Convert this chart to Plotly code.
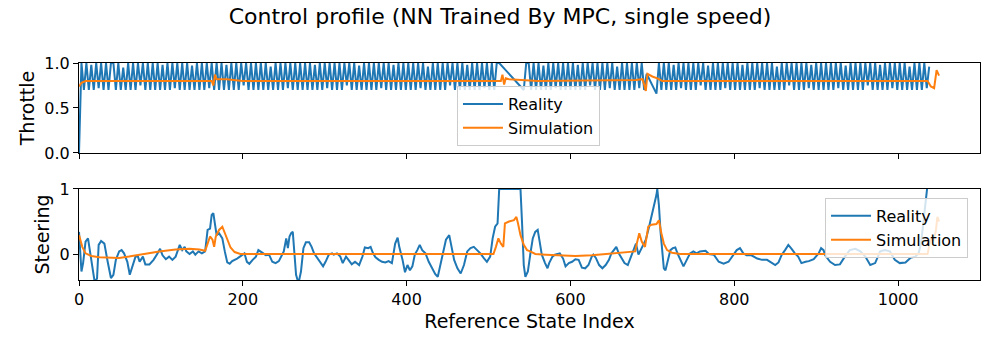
import numpy as np
import plotly.graph_objects as go
from plotly.subplots import make_subplots

# throttle of the real car, one sample every THROTTLE_STEP indices (None = missing samples)
THROTTLE_STEP = 3
throttle_real = [
    0.0,
    1.0, 0.7, 1.0, 0.7, 0.98, 0.7, 1.0, 0.72, 1.0, 0.7,
    1.0, 0.7, 1.0, 1.0, 0.7, 1.0, 0.7, 0.95, 0.7, 1.0,
    0.7, 1.0, 0.7, 1.0, 0.75, 1.0, 0.7, 1.0, 0.7, 1.0,
    0.7, 1.0, 0.7, 0.98, 0.7, 1.0, 0.7, 1.0, 0.72, 1.0,
    0.7, 1.0, 0.7, 1.0, 0.7, 0.97, 0.7, 1.0, 0.7, 1.0,
    0.7, 1.0, 0.72, 1.0, 0.7, 1.0, 0.7, 1.0, 0.7, 0.98,
    0.7, 1.0, 0.7, 1.0, 0.7, 1.0, 0.75, 1.0, 0.7, 1.0,
    0.7, 1.0, 0.7, 1.0, 0.7, 1.0, 0.7, 0.96, 0.7, 1.0,
    0.7, 1.0, 0.7, 1.0, 0.72, 1.0, 0.7, 1.0, 0.7, 1.0,
    0.7, 1.0, 0.7, 1.0, 0.7, 0.98, 0.7, 1.0, 0.7, 1.0,
    0.72, 1.0, 0.7, 1.0, 0.7, 1.0, 0.7, 1.0, 0.75, 1.0,
    0.7, 1.0, 0.7, 0.97, 0.7, 1.0, 0.7, 1.0, 0.7, 1.0,
    0.7, 1.0, 0.72, 1.0, 0.7, 1.0, 0.7, 0.98, 0.7, 1.0,
    0.7, 1.0, 0.7, 1.0, 0.7, 1.0, 0.7, 1.0, 0.72, 1.0,
    0.7, 0.96, 0.7, 1.0, 0.7, 1.0, 0.7, 1.0, 0.7, 1.0,
    0.75, 1.0, 0.7, 1.0, 0.7, 1.0, 0.7, 0.98, 0.7, 1.0,
    0.7, 1.0, 0.7, 1.0, 0.72, 1.0, 0.7, 1.0, 0.7, 1.0,
    1.0,
    None, None, None, None, None, None, None, None, None,
    0.7,
    1.0, 1.0, 0.7, 1.0, 0.7, 1.0, 0.7, 0.97, 0.7,
    1.0, 0.7, 1.0, 0.72, 1.0, 0.7, 1.0, 0.7, 1.0, 0.7,
    1.0, 0.7, 0.98, 0.7, 1.0, 0.7, 1.0, 0.75, 1.0, 0.7,
    1.0, 0.7, 1.0, 0.7, 1.0, 0.72, 1.0, 0.7, 0.96, 0.7,
    1.0, 0.7, 1.0, 0.7, 1.0, 0.7, 1.0, 0.72, 1.0, 0.7,
    0.88,
    None, None, None,
    0.66,
    1.0, 0.7, 1.0, 0.7, 1.0, 0.7, 0.98, 0.7, 1.0, 0.72,
    1.0, 0.7, 1.0, 0.7, 1.0, 0.7, 1.0, 0.75, 1.0, 0.7,
    0.97, 0.7, 1.0, 0.7, 1.0, 0.7, 1.0, 0.72, 1.0, 0.7,
    1.0, 0.7, 1.0, 0.7, 0.98, 0.7, 1.0, 0.7, 1.0, 0.7,
    1.0, 0.72, 1.0, 0.7, 1.0, 0.7, 1.0, 0.7, 0.96, 0.7,
    1.0, 0.7, 1.0, 0.75, 1.0, 0.7, 1.0, 0.7, 1.0, 0.7,
    1.0, 0.72, 0.98, 0.7, 1.0, 0.7, 1.0, 0.7, 1.0, 0.7,
    1.0, 0.7, 1.0, 0.72, 1.0, 0.7, 0.97, 0.7, 1.0, 0.7,
    1.0, 0.7, 1.0, 0.7, 1.0, 0.75, 1.0, 0.7, 1.0, 0.7,
    0.98, 0.7, 1.0, 0.7, 1.0, 0.72, 1.0, 0.7, 1.0, 0.7,
    1.0, 0.7, 0.96, 0.7, 1.0, 0.7, 1.0, 0.7, 1.0, 0.72,
    0.96,
]

throttle_sim_idx = [0, 3, 8, 162, 164, 166, 168, 180, 200, 515, 517, 519, 521,
                    525, 540, 560, 680, 688, 690, 692, 694, 700, 706, 712, 1036,
                    1040, 1044, 1047, 1050]
throttle_sim = [0.74, 0.78, 0.8, 0.8, 0.75, 0.87, 0.82, 0.82, 0.8, 0.8, 0.87,
                0.76, 0.83, 0.82, 0.81, 0.8, 0.81, 0.82, 0.76, 0.69, 0.88, 0.85,
                0.83, 0.8, 0.8, 0.74, 0.72, 0.92, 0.86]

steer_real_idx = [
    0, 3, 5, 8, 11, 15, 19, 22, 24, 27, 31, 35, 39, 42, 45, 49, 52, 55, 59, 62,
    65, 69, 72, 74, 78, 81, 86, 91, 96, 99, 102, 106, 110, 114, 118, 120, 123,
    126, 129, 131, 135, 139, 142, 146, 150, 154, 157, 160, 162, 164, 166, 168,
    171, 175, 178, 181, 184, 187, 193, 197, 202, 205, 208, 212, 216, 219, 222,
    225, 228, 232, 236, 240, 244, 248, 250, 253, 255, 257, 259, 261, 263, 265,
    268, 271, 274, 277, 281, 284, 287, 291, 295, 298, 301, 305, 309, 311, 315,
    319, 322, 326, 329, 333, 337, 342, 346, 349, 353, 356, 359, 362, 366, 370,
    374, 378, 382, 386, 389, 391, 395, 398, 401, 404, 407, 410, 413, 416, 419,
    423, 427, 431, 435, 438, 441, 446, 448, 452, 455, 458, 462, 466, 470, 474,
    478, 482, 486, 490, 494, 498, 502, 505, 508, 511, 513, 539, 541, 543, 545,
    548, 551, 554, 557, 560, 562, 565, 569, 572, 574, 578, 581, 584, 587, 591,
    594, 598, 602, 606, 610, 614, 618, 622, 626, 628, 631, 635, 639, 643, 647,
    650, 653, 656, 659, 663, 666, 670, 674, 678, 680, 683, 687, 689, 692, 696,
    699, 702, 705, 706, 708, 710, 712, 714, 716, 719, 722, 725, 728, 731, 734,
    738, 742, 746, 750, 754, 758, 765, 769, 775, 781, 787, 793, 799, 803, 807,
    811, 815, 821, 828, 834, 840, 846, 850, 854, 858, 862, 866, 870, 874, 878,
    882, 887, 891, 897, 903, 906, 909, 911, 917, 923, 929, 935, 941, 948, 954,
    960, 966, 972, 978, 984, 990, 996, 1002, 1009, 1015, 1021, 1025, 1028, 1031,
    1033, 1035, 1038,
]
steer_real = [
    0.34, -0.27, -0.14, 0.19, 0.24, -0.07, -0.42, -0.38, 0.14, 0.2, 0.16, -0.12,
    -0.37, -0.32, -0.09, 0.04, 0.06, 0.01, -0.12, -0.32, -0.19, -0.04, -0.04,
    -0.12, -0.04, -0.16, -0.16, -0.09, 0.01, 0.08, -0.02, -0.08, -0.04, -0.09,
    -0.04, 0.04, 0.14, 0.06, 0.11, 0.04, 0.0, 0.04, -0.01, 0.04, 0.01, 0.04,
    0.37, 0.39, 0.6, 0.63, 0.45, 0.29, 0.32, 0.24, 0.04, -0.13, -0.15, -0.11,
    -0.07, -0.04, 0.01, -0.12, -0.15, -0.09, -0.04, 0.06, 0.04, 0.01, -0.02,
    -0.01, -0.12, -0.14, -0.11, -0.01, 0.04, 0.24, 0.09, 0.27, 0.32, 0.34, -0.07,
    -0.32, -0.45, -0.27, 0.09, 0.18, 0.18, 0.11, 0.01, -0.07, -0.14, -0.19,
    -0.12, -0.01, 0.01, -0.01, 0.01, -0.04, -0.14, -0.04, -0.09, -0.16, -0.12,
    -0.17, -0.04, 0.1, 0.09, 0.11, 0.01, -0.05, -0.09, -0.12, -0.13, -0.11,
    -0.14, 0.16, 0.25, 0.11, -0.09, -0.28, -0.17, -0.25, -0.19, -0.01, 0.06,
    0.14, 0.06, 0.01, -0.12, -0.22, -0.31, -0.35, -0.17, 0.14, 0.22, 0.29, 0.11,
    -0.09, -0.22, -0.3, -0.17, 0.04, 0.09, 0.11, 0.06, 0.01, -0.06, -0.12, -0.04,
    0.24, 0.42, 0.47, 1.0, 1.0, 0.45, -0.17, -0.35, -0.27, 0.0, 0.24, 0.34, 0.37,
    0.22, -0.01, -0.14, -0.22, -0.14, -0.04, -0.01, 0.0, 0.01, -0.07, -0.19,
    -0.14, -0.12, -0.08, -0.09, -0.21, -0.22, -0.17, -0.04, -0.01, -0.06, -0.17,
    -0.22, -0.17, -0.09, 0.01, 0.06, 0.11, 0.01, -0.09, -0.14, -0.17, -0.04,
    0.11, 0.16, -0.01, 0.09, 0.16, 0.22, 0.42, 0.57, 0.73, 0.91, 1.0, 0.75, 0.34,
    0.04, -0.22, -0.25, -0.07, 0.06, 0.09, 0.1, 0.0, -0.09, -0.19, -0.09, 0.01,
    0.04, 0.01, 0.04, 0.05, 0.0, -0.01, -0.12, -0.15, -0.12, -0.01, 0.06, 0.09,
    0.01, -0.02, -0.02, -0.07, -0.09, -0.09, -0.14, -0.17, -0.13, -0.01, 0.06,
    0.14, 0.08, 0.01, -0.04, -0.14, -0.12, -0.11, -0.08, 0.01, 0.09, 0.06, -0.02,
    -0.12, -0.17, -0.16, -0.04, 0.06, 0.08, 0.04, -0.04, -0.17, -0.14, 0.04,
    0.06, 0.04, -0.09, -0.14, -0.13, -0.06, -0.04, 0.01, 0.16, 0.5, 0.7, 1.0, 1.3,
]

steer_sim_idx = [0, 4, 8, 15, 25, 37, 49, 61, 78, 98, 118, 135, 147, 154, 157,
                 160, 163, 165, 167, 171, 175, 178, 181, 185, 190, 197, 300,
                 506, 509, 512, 515, 518, 520, 525, 531, 534, 536, 539, 543,
                 547, 551, 557, 570, 586, 606, 626, 647, 667, 679, 681, 684,
                 687, 691, 695, 699, 705, 708, 711, 714, 718, 724, 734, 1036,
                 1040, 1043, 1046, 1048, 1050]
steer_sim = [0.29, 0.11, 0.01, -0.03, -0.05, -0.06, -0.06, -0.04, 0.0, 0.04,
             0.07, 0.08, 0.07, 0.05, 0.16, 0.27, 0.22, 0.11, 0.27, 0.37, 0.42,
             0.33, 0.22, 0.1, 0.03, 0.0, 0.0, 0.0, 0.11, 0.24, 0.16, 0.11,
             0.47, 0.5, 0.52, 0.57, 0.47, 0.29, 0.14, 0.06, 0.04, 0.0, -0.01,
             -0.02, -0.03, -0.02, 0.0, 0.02, 0.04, 0.16, 0.32, 0.19, 0.11,
             0.42, 0.45, 0.46, 0.52, 0.32, 0.16, 0.06, 0.02, 0.0, 0.0, 0.25,
             0.2, 0.35, 0.57, 0.5]

BLUE = "#1f77b4"
ORANGE = "#ff7f0e"
FONT = "DejaVu Sans"

throttle_idx = np.arange(len(throttle_real)) * THROTTLE_STEP

fig = make_subplots(rows=2, cols=1, shared_xaxes=False, vertical_spacing=0.166)

fig.add_trace(go.Scatter(x=throttle_idx, y=throttle_real, mode="lines", name="Reality",
                         connectgaps=True, line=dict(color=BLUE, width=2), legend="legend"),
              row=1, col=1)
fig.add_trace(go.Scatter(x=throttle_sim_idx, y=throttle_sim, mode="lines", name="Simulation",
                         line=dict(color=ORANGE, width=2), legend="legend"),
              row=1, col=1)
fig.add_trace(go.Scatter(x=steer_real_idx, y=steer_real, mode="lines", name="Reality",
                         line=dict(color=BLUE, width=2), legend="legend2"),
              row=2, col=1)
fig.add_trace(go.Scatter(x=steer_sim_idx, y=steer_sim, mode="lines", name="Simulation",
                         line=dict(color=ORANGE, width=2), legend="legend2"),
              row=2, col=1)

axis_style = dict(showline=True, linecolor="black", linewidth=1, mirror=True,
                  ticks="outside", ticklen=5, tickcolor="black", showgrid=False,
                  zeroline=False, automargin=False,
                  tickfont=dict(size=16, color="black"))

fig.update_xaxes(range=[0, 1100], tickvals=[0, 200, 400, 600, 800, 1000], **axis_style)
fig.update_xaxes(showticklabels=False, domain=[0, 1], row=1, col=1)
fig.update_xaxes(title=dict(text="Reference State Index", font=dict(size=19, color="black"),
                            standoff=6), row=2, col=1)
fig.update_yaxes(**axis_style)
fig.update_yaxes(range=[0, 1], tickvals=[0, 0.5, 1], ticktext=["0.0", "0.5", "1.0"],
                 domain=[0.5853, 1],
                 title=dict(text="Throttle", font=dict(size=19, color="black"), standoff=4),
                 row=1, col=1)
fig.update_yaxes(range=[-0.4, 1], tickvals=[0, 1], ticktext=["0", "1"],
                 domain=[0, 0.4194],
                 title=dict(text="Steering", font=dict(size=19, color="black"), standoff=4),
                 row=2, col=1)

legend_style = dict(bgcolor="rgba(255,255,255,0.8)", bordercolor="#cccccc", borderwidth=1,
                    font=dict(size=16, color="black", family=FONT),
                    xanchor="left", yanchor="top", itemwidth=40, tracegroupgap=0)

fig.update_layout(
    width=1000, height=350,
    margin=dict(l=79, r=20, t=63, b=70),
    paper_bgcolor="white", plot_bgcolor="white",
    font=dict(family=FONT, color="black"),
    title=dict(text="Control profile (NN Trained By MPC, single speed)",
               font=dict(size=22, color="black"), x=0.5, xref="container",
               y=0.954, yanchor="middle", xanchor="center"),
    legend=dict(x=0.4195, y=0.894, **legend_style),
    legend2=dict(x=0.828, y=0.378, **legend_style),
)

# drop the browser's default page margin so the figure sits at the window corner
fig.write_html("out.html", config={"displayModeBar": False},
               post_script="document.body.style.margin='0';document.body.style.overflow='hidden';")
